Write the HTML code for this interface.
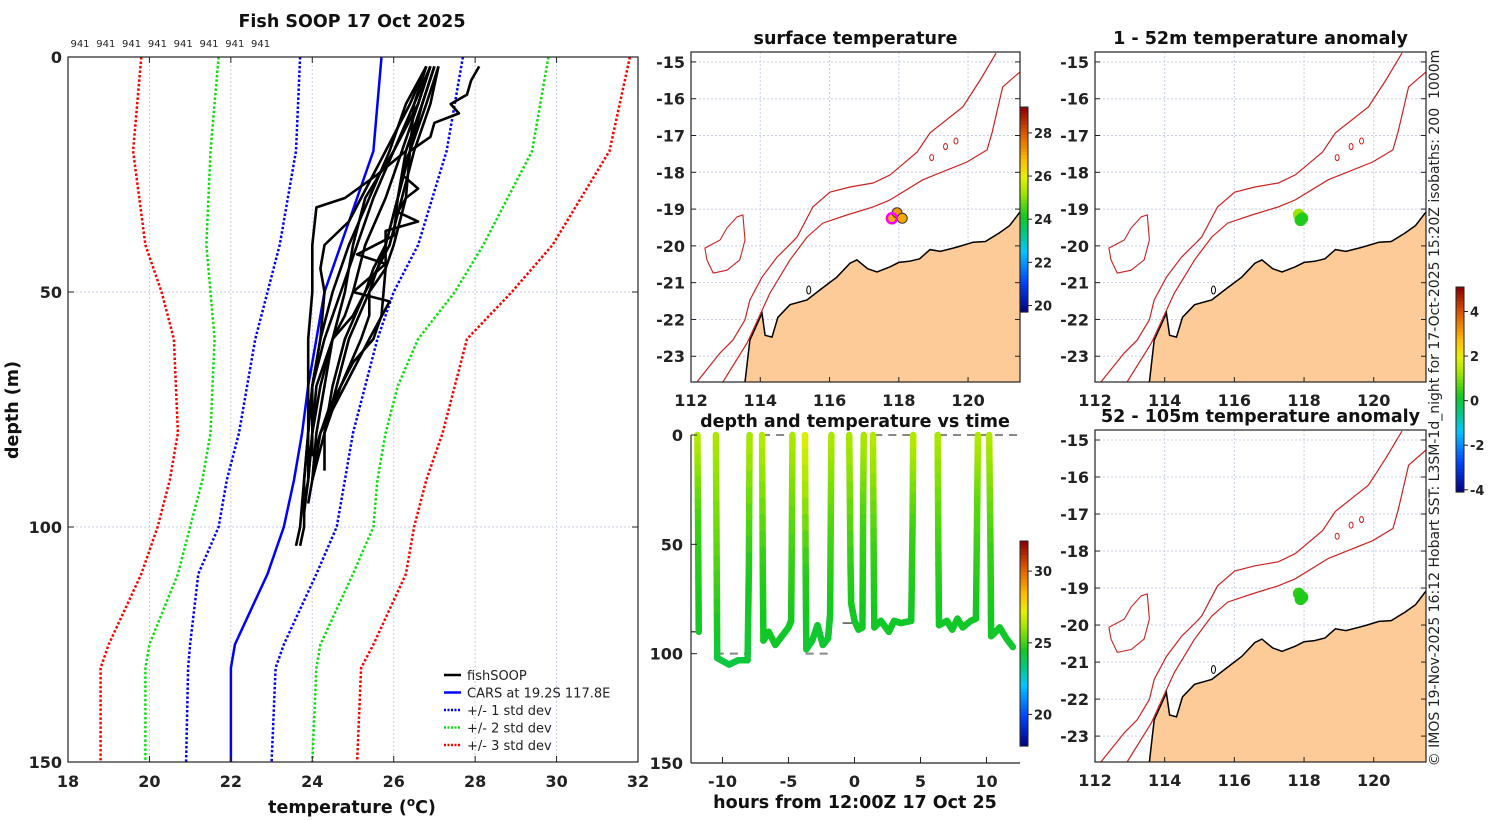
<!DOCTYPE html>
<html><head><meta charset="utf-8">
<style>
html,body{margin:0;padding:0;background:#fff;}
svg{display:block;font-family:"DejaVu Sans","Liberation Sans",sans-serif;}
.tk{font-size:16px;font-weight:bold;fill:#222;}
.ttl{font-size:17.5px;font-weight:bold;fill:#111;}
</style></head>
<body>
<svg id="fig" width="1500" height="820" viewBox="0 0 1500 820" xmlns="http://www.w3.org/2000/svg">
<g id="gProfile"></g>
<g id="gTime"></g>
<g id="gMaps"></g>
</svg>
<script>
// ---------- profile panel data ----------
const stdDepths = [0, 20, 40, 50, 60, 70, 80, 90, 100, 110, 125, 130, 150];
const carsMean = [25.7, 25.5, 24.7, 24.3, 24.1, 23.9, 23.75, 23.55, 23.3, 22.9, 22.1, 22.0, 22.0];
const plus1 = [27.7, 27.3, 26.6, 26.0, 25.6, 25.3, 25.0, 24.8, 24.6, 24.1, 23.3, 23.1, 23.0];
const minus1 = [23.7, 23.6, 23.2, 22.9, 22.6, 22.4, 22.2, 21.9, 21.7, 21.2, 21.0, 20.95, 20.9];
const plus2 = [29.8, 29.4, 28.2, 27.5, 26.6, 26.1, 25.8, 25.6, 25.5, 25.0, 24.2, 24.1, 24.0];
const minus2 = [21.7, 21.5, 21.4, 21.5, 21.6, 21.55, 21.5, 21.3, 21.0, 20.7, 20.0, 19.9, 19.9];
const plus3 = [31.8, 31.3, 29.9, 28.9, 27.8, 27.5, 27.2, 26.8, 26.5, 26.3, 25.5, 25.2, 25.1];
const minus3 = [19.8, 19.6, 19.9, 20.3, 20.6, 20.65, 20.7, 20.5, 20.2, 19.8, 19.0, 18.8, 18.8];
const fishDepths = [
 [2,10,20,30,40,50,60,70,80,90,95,100,104],
 [2,10,20,25,30,32,40,50,60,70,80,90,98],
 [2,5,8,10,12,14,17,20,22,25,28,30,33,35,37,45,55,60,65,70,75,80,83],
 [2,10,20,30,40,45,50,55,60,70,80,90],
 [2,10,20,30,40,45,50,55,60,70,80,90,97],
 [2,10,20,30,40,50,60,70,80,90],
 [2,10,20,30,35,40,45,50,60,70,80,85],
 [2,10,20,30,40,50,60,70,80,88],
 [2,10,20,30,40,50,55,60,70,80,90,95],
 [2,10,20,30,38,42,44,50,52,60,70,80,90],
 [2,10,20,30,40,50,60,70,80,90,100,104],
 [2,10,20,30,40,50,60,70,80]
];
const fishTemps = [
 [26.9,26.6,26.0,25.3,25.0,24.8,24.5,24.2,24.0,23.9,23.8,23.8,23.7],
 [27.0,26.7,26.3,25.6,24.8,24.1,24.0,24.0,23.9,23.9,23.9,23.8,23.8],
 [28.1,27.9,27.8,27.4,27.6,27.0,26.9,26.4,26.3,26.2,26.6,26.3,26.1,26.6,25.8,25.8,25.7,25.5,25.0,24.7,24.4,24.2,24.1],
 [26.8,26.5,26.4,26.3,26.0,25.8,25.4,25.4,25.2,24.7,24.3,24.0],
 [27.0,26.7,26.4,26.1,25.8,25.5,25.3,25.0,24.5,24.1,24.0,23.9,23.8],
 [26.9,26.5,26.0,25.5,25.1,24.7,24.3,24.0,23.9,23.9],
 [26.8,26.4,25.8,25.2,24.9,24.3,24.2,24.3,24.2,24.0,24.0,24.0],
 [27.1,26.9,26.5,26.2,25.9,25.3,24.8,24.5,24.3,24.3],
 [26.9,26.6,26.2,25.8,25.3,25.0,24.8,24.5,24.3,24.1,24.0,23.9],
 [27.0,26.7,26.3,26.1,26.0,25.1,25.8,25.0,25.9,25.4,24.8,24.2,24.0],
 [26.8,26.3,25.9,25.4,24.9,24.5,24.2,24.0,23.9,23.8,23.7,23.6],
 [27.1,26.8,26.4,26.1,25.8,25.4,24.9,24.6,24.3]
];
const profTempTicks = [18,20,22,24,26,28,30,32];
const profDepthTicks = [0,50,100,150];
const cruiseLabels = ["941","941","941","941","941","941","941","941"];

// ---------- time panel data ----------
const towHours = [-11.9,-11.85,-11.8,null,-10.5,-10.45,-10.4,-9.5,-8.8,-8.1,-8.0,-7.95,null,-7.0,-6.95,-6.9,-6.5,-6.0,-5.5,-5.0,-4.8,-4.75,-4.7,null,-3.75,-3.7,-3.65,-3.2,-2.8,-2.4,-2.0,-1.85,-1.8,-1.75,null,-0.4,-0.3,-0.25,0.0,0.3,0.6,0.65,0.7,null,1.4,1.45,1.5,2.0,2.6,3.0,3.5,4.3,4.4,4.45,null,6.3,6.35,6.4,7.0,7.4,7.8,8.2,8.8,9.2,9.3,9.35,null,10.2,10.3,10.35,10.7,11.0,11.5,12.0];
const towDepth = [0,40,90,null,0,50,102,105,103,103,60,0,null,0,60,94,90,96,92,88,85,50,0,null,0,60,98,94,87,96,93,82,40,0,null,0,60,77,85,89,88,40,0,null,0,50,88,85,90,85,86,85,40,0,null,0,50,87,85,89,84,88,85,84,30,0,null,0,50,92,90,88,93,97];
const towTemp = [26.5,25.0,24.4,null,26.3,25.4,24.2,24.1,24.1,24.2,24.6,26.3,null,26.5,24.8,24.4,24.4,24.4,24.4,24.4,24.5,25.0,26.3,null,27.2,24.8,24.3,24.3,24.3,24.3,24.3,24.4,25.2,26.3,null,26.3,24.8,24.6,24.4,24.4,24.4,25.0,26.3,null,26.5,25.0,24.4,24.4,24.4,24.4,24.4,24.4,25.0,26.5,null,26.3,25.0,24.4,24.4,24.4,24.4,24.4,24.4,24.4,25.3,26.4,null,26.4,25.0,24.4,24.4,24.4,24.4,24.3];
const timeTicks = [-10,-5,0,5,10];
const timeDepthTicks = [0,50,100,150];
const dashStart = [-7.0,1.5,6.4,-10.5,-3.7];
const dashEnd = [-4.6,4.5,12.5,-8.0,-1.7];
const dashDepth = [0,0,0,100,100];

// ---------- map data ----------
const coastLon = [113.56,113.7,114.05,114.14,114.34,114.51,114.86,115.35,115.72,116.21,116.59,116.79,117.1,117.37,117.75,118.0,118.3,118.6,118.9,119.2,119.57,119.8,120.15,120.5,120.9,121.2,121.5];
const coastLat = [-23.7,-22.56,-21.83,-22.43,-22.48,-21.94,-21.6,-21.47,-21.2,-20.85,-20.47,-20.38,-20.62,-20.71,-20.57,-20.45,-20.42,-20.35,-20.1,-20.15,-20.06,-20.0,-19.9,-19.88,-19.65,-19.45,-19.08];
const iso1000Lon = [112.17,112.84,113.21,113.56,113.7,114.05,114.48,114.92,115.06,115.52,116.01,116.59,117.26,117.75,118.53,118.9,119.85,120.35,120.81];
const iso1000Lat = [-23.7,-22.91,-22.56,-22.01,-21.47,-20.85,-20.31,-19.9,-19.76,-18.94,-18.54,-18.4,-18.29,-18.07,-17.45,-16.93,-16.22,-15.49,-14.76];
const iso200Lon = [112.92,113.62,114.28,114.86,115.35,115.81,116.5,117.26,117.75,118.7,119.97,120.55,120.7,121.0,121.5];
const iso200Lat = [-23.7,-22.64,-21.28,-20.38,-19.76,-19.38,-19.16,-18.94,-18.75,-18.2,-17.72,-17.39,-16.9,-15.68,-15.27];
const islandLon = [113.33,113.5,113.56,113.41,113.04,112.64,112.46,112.4,112.84,113.04];
const islandLat = [-19.21,-19.16,-19.84,-20.38,-20.66,-20.74,-20.38,-20.06,-19.84,-19.51];
const lonTicks = [112,114,116,118,120];
const latTicks = [-15,-16,-17,-18,-19,-20,-21,-22,-23];
const sstLon = [117.8,117.95,118.1];
const sstLat = [-19.25,-19.1,-19.25];
const sstVal = [26.9,27.2,27.0];
const anomLon = [117.85,117.95,117.9];
const anomLat = [-19.15,-19.25,-19.3];
const anom1Val = [1.2,0.4,0.3];
const anom2Val = [0.4,0.3,0.3];
const sstTicks = [20,22,24,26,28];
const timeCbTicks = [20,25,30];
const anomTicks = [-4,-2,0,2,4];

const NS = "http://www.w3.org/2000/svg";
function el(tag, attrs, parent){ const e=document.createElementNS(NS,tag); for(const k in attrs) e.setAttribute(k,attrs[k]); parent.appendChild(e); return e; }
function txt(parent,x,y,s,cls,anchor,extra){ const t=el('text',Object.assign({x:x,y:y,'class':cls||'tk','text-anchor':anchor||'middle'},extra||{}),parent); t.textContent=s; return t; }
const cmapStops=[[0,0,0,128],[0.15,0,70,255],[0.3,0,200,255],[0.38,0,200,140],[0.47,20,200,30],[0.58,160,230,0],[0.66,230,240,0],[0.74,255,190,0],[0.87,220,90,0],[1,140,0,0]];
function jet(v){ v=Math.max(0,Math.min(1,v)); for(let i=0;i<cmapStops.length-1;i++){ const a=cmapStops[i],b=cmapStops[i+1]; if(v<=b[0]){ const f=(v-a[0])/(b[0]-a[0]);
 return 'rgb('+Math.round(a[1]+(b[1]-a[1])*f)+','+Math.round(a[2]+(b[2]-a[2])*f)+','+Math.round(a[3]+(b[3]-a[3])*f)+')'; } } return 'rgb(140,0,0)'; }

// ================= PROFILE =================
(function(){
 const g=document.getElementById('gProfile');
 const X0=68,X1=638,Y0=57,Y1=762;
 const xs=t=>X0+(t-18)/(32-18)*(X1-X0);
 const ys=d=>Y0+d/150*(Y1-Y0);
 profTempTicks.forEach(t=>{ if(t>18&&t<32){ const l=el('line',{x1:xs(t),x2:xs(t),y1:Y0,y2:Y1,stroke:'#c9cfe6','stroke-width':1,'stroke-dasharray':'2,2'},g);
   }});
 profDepthTicks.forEach(d=>{ if(d>0&&d<150){ const l=el('line',{x1:X0,x2:X1,y1:ys(d),y2:ys(d),stroke:'#c9cfe6','stroke-width':1,'stroke-dasharray':'2,2'},g);
   }});
 function line(vals,color,dash,w,name){ const p=vals.map((v,i)=>xs(v).toFixed(1)+','+ys(stdDepths[i]).toFixed(1)).join(' ');
  const e=el('polyline',{points:p,fill:'none',stroke:color,'stroke-width':w,'stroke-dasharray':dash||'none'},g);
    }
 line(minus3,'#f00','2.5,2',2.5,'minus-3-std-line'); line(plus3,'#f00','2.5,2',2.5,'plus-3-std-line');
 line(minus2,'#1d1','2.5,2',2.5,'minus-2-std-line'); line(plus2,'#1d1','2.5,2',2.5,'plus-2-std-line');
 line(minus1,'#00f','2.5,2',2.5,'minus-1-std-line'); line(plus1,'#00f','2.5,2',2.5,'plus-1-std-line');
 line(carsMean,'#00f',null,2.5,'cars-mean-line');
 fishDepths.forEach((ds,k)=>{ const p=ds.map((d,i)=>xs(fishTemps[k][i]).toFixed(1)+','+ys(d).toFixed(1)).join(' ');
  const e=el('polyline',{points:p,fill:'none',stroke:'#000','stroke-width':2.6,'stroke-linejoin':'round'},g);
    });
 const fr=el('rect',{x:X0,y:Y0,width:X1-X0,height:Y1-Y0,fill:'none',stroke:'#222','stroke-width':1.2},g);
  
 profTempTicks.forEach(t=>{ el('line',{x1:xs(t),x2:xs(t),y1:Y0,y2:Y0+6,stroke:'#222'},g); el('line',{x1:xs(t),x2:xs(t),y1:Y1,y2:Y1-6,stroke:'#222'},g);
  const l=txt(g,xs(t),Y1+25,String(t));   });
 profDepthTicks.forEach(d=>{ el('line',{x1:X0,x2:X0+6,y1:ys(d),y2:ys(d),stroke:'#222'},g); el('line',{x1:X1,x2:X1-6,y1:ys(d),y2:ys(d),stroke:'#222'},g);
  const l=txt(g,X0-6,ys(d)+6,String(d),'tk','end');   });
 cruiseLabels.forEach((s,i)=>{ const l=txt(g,80+i*25.8,47,s,'tk','middle',{style:'font-size:10px;font-weight:normal'});   });
 const t1=txt(g,352,27,'Fish SOOP 17 Oct 2025','ttl');  
 const xl=txt(g,352,813,'','ttl'); xl.innerHTML='temperature (<tspan dy="-7" font-size="12">o</tspan><tspan dy="7">C)</tspan>';
  
 const yl=txt(g,0,0,'depth (m)','ttl','middle',{transform:'translate(18,410) rotate(-90)'});
  
 const leg=[['fishSOOP','#000',null],['CARS at 19.2S 117.8E','#00f',null],['+/- 1 std dev','#00f','2,1.5'],['+/- 2 std dev','#1d1','2,1.5'],['+/- 3 std dev','#f00','2,1.5']];
 leg.forEach((L,i)=>{ const y=675+i*17.5; const lg=el('g',{},g);
   
  el('line',{x1:444,x2:461,y1:y,y2:y,stroke:L[1],'stroke-width':2.6,'stroke-dasharray':L[2]||'none'},lg);
  txt(lg,467,y+5,L[0],'tk','start',{style:'font-size:13px;font-weight:normal'}); });
})();

// ================= TIME PANEL =================
(function(){
 const g=document.getElementById('gTime');
 const X0=691,X1=1020,Y0=435,Y1=763;
 const xs=h=>854.5+h*13.2;
 const ys=d=>Y0+d/150*(Y1-Y0);
 const cmin=17.8,cmax=32.1;
 dashStart.forEach((s,i)=>{ const l=el('line',{x1:xs(s),x2:xs(dashEnd[i]),y1:ys(dashDepth[i]),y2:ys(dashDepth[i]),stroke:'#888','stroke-width':2,'stroke-dasharray':'8,6'},g);
    });
 el('line',{x1:xs(-12.4),x2:xs(-11.6),y1:ys(90),y2:ys(90),stroke:'#222','stroke-width':1.2},g);
 el('line',{x1:xs(-0.9),x2:xs(0.2),y1:ys(86),y2:ys(86),stroke:'#222','stroke-width':1.2},g);
 const tg=el('g',{},g);  
 for(let i=0;i<towHours.length-1;i++){
  if(towHours[i]===null||towHours[i+1]===null) continue;
  const n=8;
  for(let k=0;k<n;k++){
   const a=k/n,b=(k+1)/n;
   const xa=xs(towHours[i]+(towHours[i+1]-towHours[i])*a), xb=xs(towHours[i]+(towHours[i+1]-towHours[i])*b);
   const ya=ys(towDepth[i]+(towDepth[i+1]-towDepth[i])*a), yb=ys(towDepth[i]+(towDepth[i+1]-towDepth[i])*b);
   const tv=towTemp[i]+(towTemp[i+1]-towTemp[i])*(a+b)/2;
   el('line',{x1:xa,y1:ya,x2:xb,y2:yb,stroke:jet((tv-cmin)/(cmax-cmin)),'stroke-width':6.5,'stroke-linecap':'round'},tg);
  }
 }
 el('line',{x1:X0,x2:X0,y1:Y0,y2:Y1,stroke:'#222','stroke-width':1.2},g);
 el('line',{x1:X0,x2:X1,y1:Y1,y2:Y1,stroke:'#222','stroke-width':1.2},g);
 timeTicks.forEach(h=>{ el('line',{x1:xs(h),x2:xs(h),y1:Y1,y2:Y1-6,stroke:'#222'},g);
  const l=txt(g,xs(h),Y1+24,String(h));   });
 timeDepthTicks.forEach(d=>{ el('line',{x1:X0,x2:X0+6,y1:ys(d),y2:ys(d),stroke:'#222'},g);
  const l=txt(g,X0-8,ys(d)+6,String(d),'tk','end');   });
 const t=txt(g,855,427,'depth and temperature vs time','ttl');  
 const xl=txt(g,855,808,'hours from 12:00Z 17 Oct 25','ttl');  
 colorbar(1020,541,8,205,cmin,cmax,timeCbTicks,'time-colorbar');
})();

function colorbar(x,y,w,h,vmin,vmax,ticks,name){
 const g=el('g',{},document.getElementById('fig'));
  
 const n=60;
 for(let i=0;i<n;i++){ el('rect',{x:x,y:y+h-(i+1)*h/n,width:w,height:h/n+0.6,fill:jet((i+0.5)/n)},g); }
 el('rect',{x:x,y:y,width:w,height:h,fill:'none',stroke:'#222','stroke-width':1},g);
 ticks.forEach(v=>{ const yy=y+h-(v-vmin)/(vmax-vmin)*h; el('line',{x1:x+w,x2:x+w+4,y1:yy,y2:yy,stroke:'#222'},g);
  txt(g,x+w+6,yy+5,String(v),'tk','start',{style:'font-size:13px'}); });
}

// ================= MAPS =================
function drawMap(X0,Y0,X1,Y1,title,dotsLon,dotsLat,dotsVal,vmin,vmax,ring,name){
 const g=el('g',{},document.getElementById('gMaps'));
  
 const lonMin=112,lonMax=121.5,latTop=-14.73,latBot=-23.7;
 const xs=lo=>X0+(lo-lonMin)/(lonMax-lonMin)*(X1-X0);
 const ys=la=>Y0+(latTop-la)/(latTop-latBot)*(Y1-Y0);
 lonTicks.forEach(lo=>{ if(lo>lonMin) el('line',{x1:xs(lo),x2:xs(lo),y1:Y0,y2:Y1,stroke:'#c9cfe6','stroke-dasharray':'2,2'},g); });
 latTicks.forEach(la=>el('line',{x1:X0,x2:X1,y1:ys(la),y2:ys(la),stroke:'#c9cfe6','stroke-dasharray':'2,2'},g));
 let p=coastLon.map((lo,i)=>xs(lo).toFixed(1)+','+ys(coastLat[i]).toFixed(1)).join(' ');
 const land=el('polygon',{points:p+' '+xs(lonMax)+','+ys(latBot)+' '+xs(coastLon[0])+','+ys(latBot),fill:'#fccb98',stroke:'none'},g);
  
 el('polyline',{points:p,fill:'none',stroke:'#000','stroke-width':1.5},g);
 const i1=el('polyline',{points:iso1000Lon.map((lo,i)=>xs(lo).toFixed(1)+','+ys(iso1000Lat[i]).toFixed(1)).join(' '),fill:'none',stroke:'#c22','stroke-width':1.2},g);
  
 const i2=el('polyline',{points:iso200Lon.map((lo,i)=>xs(lo).toFixed(1)+','+ys(iso200Lat[i]).toFixed(1)).join(' '),fill:'none',stroke:'#c22','stroke-width':1.2},g);
  
 el('polygon',{points:islandLon.map((lo,i)=>xs(lo).toFixed(1)+','+ys(islandLat[i]).toFixed(1)).join(' '),fill:'none',stroke:'#c22','stroke-width':1.1},g);
 [[118.95,-17.6],[119.35,-17.3],[119.65,-17.15]].forEach(c=>el('ellipse',{cx:xs(c[0]),cy:ys(c[1]),rx:2,ry:3,fill:'none',stroke:'#c22'},g));
 el('ellipse',{cx:xs(115.4),cy:ys(-21.2),rx:2,ry:4,fill:'none',stroke:'#000'},g);
 dotsLon.forEach((lo,i)=>{ const c=el('circle',{cx:xs(lo),cy:ys(dotsLat[i]),r:ring?5:6,fill:jet((dotsVal[i]-vmin)/(vmax-vmin)),stroke:ring?'#333':'none','stroke-width':1},g);
    });
 if(ring){ const r=el('circle',{cx:xs(dotsLon[0]),cy:ys(dotsLat[0]),r:5,fill:'none',stroke:'#f0f','stroke-width':2.5},g);
    }
 el('rect',{x:X0,y:Y0,width:X1-X0,height:Y1-Y0,fill:'none',stroke:'#222','stroke-width':1.2},g);
 lonTicks.forEach(lo=>{ el('line',{x1:xs(lo),x2:xs(lo),y1:Y1,y2:Y1-5,stroke:'#222'},g);
  txt(g,xs(lo),Y1+24,String(lo)); });
 latTicks.forEach(la=>{ el('line',{x1:X0,x2:X0+5,y1:ys(la),y2:ys(la),stroke:'#222'},g); el('line',{x1:X1,x2:X1-5,y1:ys(la),y2:ys(la),stroke:'#222'},g);
  txt(g,X0-6,ys(la)+6,String(la),'tk','end'); });
 const t=txt(g,(X0+X1)/2,Y0-8,title,'ttl');  
}
drawMap(691,52,1020,382,'surface temperature',sstLon,sstLat,sstVal,19.7,29.2,true,'sst-map');
drawMap(1095,52,1426,382,'1 - 52m temperature anomaly',anomLon,anomLat,anom1Val,-4.1,5.1,false,'anomaly-map-shallow');
drawMap(1095,430,1426,762,'52 - 105m temperature anomaly',anomLon,anomLat,anom2Val,-4.1,5.1,false,'anomaly-map-deep');
colorbar(1020,107,8,205,19.7,29.2,sstTicks,'sst-colorbar');
colorbar(1456,287,8,205,-4.1,5.1,anomTicks,'anomaly-colorbar');
const cr=txt(document.getElementById('fig'),0,0,'© IMOS 19-Nov-2025 16:12 Hobart SST: L3SM-1d_night for 17-Oct-2025 15:20Z isobaths: 200  1000m','tk','middle',{transform:'translate(1439,408) rotate(-90)',style:'font-size:14px;font-weight:normal;white-space:pre'});


</script>
</body></html>
